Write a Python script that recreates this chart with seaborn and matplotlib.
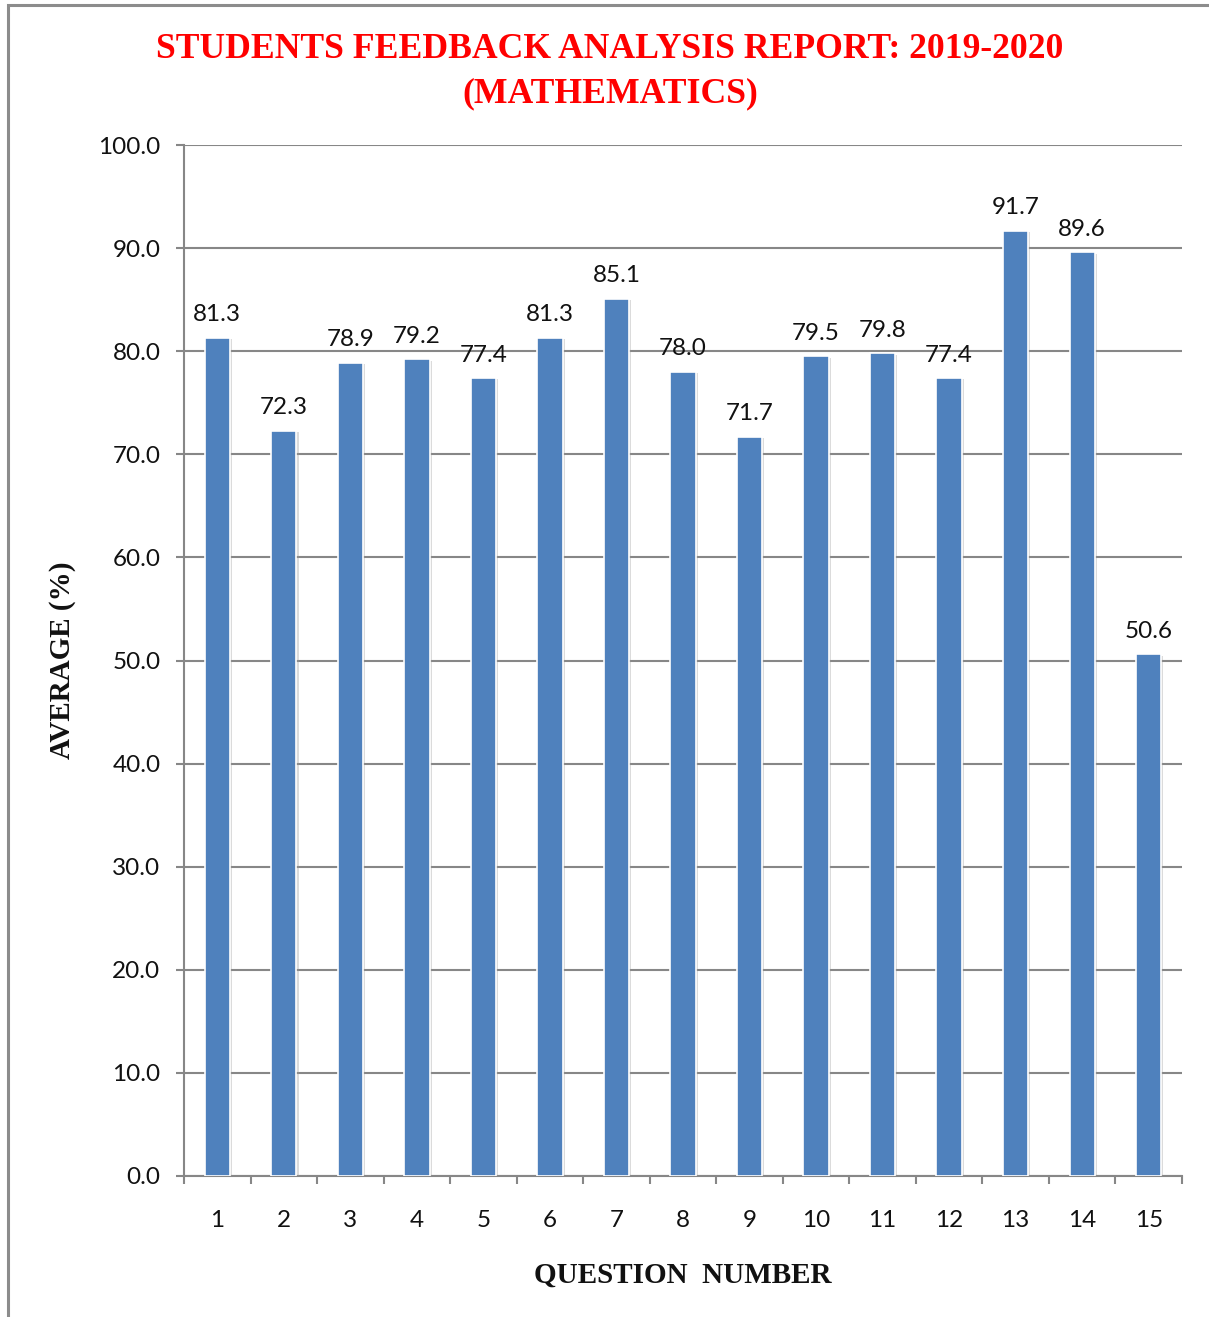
import matplotlib
matplotlib.use("Agg")
import matplotlib.pyplot as plt
import matplotlib.patheffects as pe
from matplotlib.patches import Rectangle
import seaborn as sns
import pandas as pd

questions = [str(i) for i in range(1, 16)]
averages = [81.3, 72.3, 78.9, 79.2, 77.4, 81.3, 85.1, 78.0, 71.7, 79.5, 79.8, 77.4, 91.7, 89.6, 50.6]
y_ticks = [0, 10, 20, 30, 40, 50, 60, 70, 80, 90, 100]

df = pd.DataFrame({"question": questions, "average": averages})

sns.set_theme(style="white")
plt.rcParams["font.family"] = ["Lato", "DejaVu Sans"]

W, H = 1209, 1317
fig = plt.figure(figsize=(W / 100, H / 100), dpi=100)
ax = fig.add_axes([184 / W, 1 - 1176 / H, (1182 - 184) / W, (1176 - 145) / H])

grid_c = "#878787"
bar_c = "#4F81BD"
txt_c = "#111111"
fs = 17.5

sns.barplot(data=df, x="question", y="average", color=bar_c, width=0.38,
            saturation=1, ax=ax, zorder=3)
for p in ax.patches:
    p.set_edgecolor("white")
    p.set_linewidth(1.2)
    p.set_path_effects([pe.SimplePatchShadow(offset=(1.5, -1), shadow_rgbFace="#999999", alpha=0.35),
                        pe.Normal()])

for i, v in enumerate(averages):
    ax.text(i, v + 1.2, f"{v:.1f}", ha="center", va="bottom", fontsize=fs, color=txt_c, zorder=4)

ax.set_ylim(0, 100)
ax.set_xlim(-0.5, 14.5)
ax.set_yticks(y_ticks)
ax.set_yticklabels([f"{t:.1f}" for t in y_ticks], fontsize=fs, color=txt_c)
ax.set_xticks(range(15))
ax.set_xticklabels(questions, fontsize=fs, color=txt_c)
ax.yaxis.grid(True, color=grid_c, linewidth=1.5, zorder=0)
ax.set_axisbelow(True)

for s in ["top", "right"]:
    ax.spines[s].set_visible(False)
for s in ["left", "bottom"]:
    ax.spines[s].set_color(grid_c)
    ax.spines[s].set_linewidth(1.5)

# y ticks stick out to the left; x ticks mark category boundaries
ax.tick_params(axis="y", which="major", direction="out", length=6, width=1.5, color=grid_c, pad=11, left=True)
ax.tick_params(axis="x", which="major", length=0, pad=24.5)
ax.set_xticks([i - 0.5 for i in range(16)], minor=True)
ax.tick_params(axis="x", which="minor", direction="out", length=6, width=1.5, color=grid_c, bottom=True)

ax.set_xlabel("")
ax.set_ylabel("")

serif = ["Liberation Serif", "DejaVu Serif"]
fig.text(683 / W, 1 - 1275 / H, "QUESTION  NUMBER", ha="center", va="center",
         fontsize=21, fontweight="bold", family=serif, color=txt_c)
fig.text(62 / W, 1 - 660 / H, "AVERAGE (%)", ha="center", va="center", rotation=90,
         fontsize=21, fontweight="bold", family=serif, color=txt_c)

fig.text(610 / W, 1 - 50 / H, "STUDENTS FEEDBACK ANALYSIS REPORT: 2019-2020",
         ha="center", va="center", fontsize=25.7, fontweight="bold", family=serif, color="#FF0000")
fig.text(610 / W, 1 - 94 / H, "(MATHEMATICS)",
         ha="center", va="center", fontsize=25.7, fontweight="bold", family=serif, color="#FF0000")

fig.patches.append(Rectangle((8 / W, -0.1), 1.2, 1.1 - 5 / H, transform=fig.transFigure,
                             fill=False, edgecolor="#8C8C8C", linewidth=2.2))

fig.savefig("out.png", dpi=100)
